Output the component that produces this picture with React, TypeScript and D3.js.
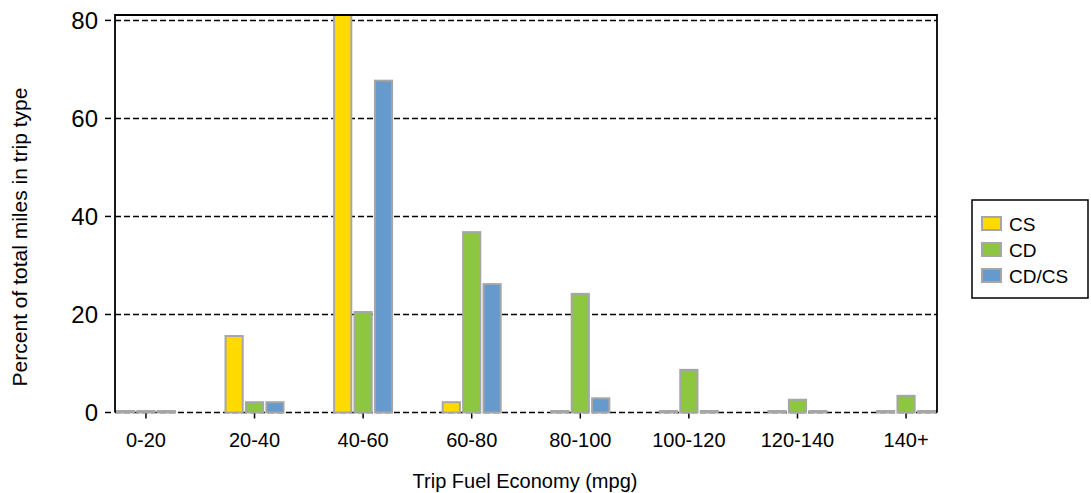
import React from "react";
import * as d3 from "d3";

const categories = ["0-20", "20-40", "40-60", "60-80", "80-100", "100-120", "120-140", "140+"];
const seriesNames = ["CS", "CD", "CD/CS"];
const csValues = [0.3, 15.6, 81.1, 2.1, 0.3, 0.3, 0.3, 0.3];
const cdValues = [0.3, 2.1, 20.5, 36.8, 24.2, 8.7, 2.6, 3.4];
const cdcsValues = [0.3, 2.1, 67.7, 26.2, 2.9, 0.3, 0.3, 0.3];
const yTicks = [0, 20, 40, 60, 80];
const colors = ["#FFDA00", "#8DC63F", "#6699CC"];

const W = 1091;
const H = 493;
const left = 115;
const right = 937;
const top = 15;
const bottom = 412.5;
const font = "'Liberation Sans', Arial, sans-serif";

export default function App() {
  const series = [csValues, cdValues, cdcsValues];
  const x = d3.scalePoint<string>().domain(categories).range([left, right]).padding(0.285);
  const x1 = d3.scaleBand<string>().domain(seriesNames).range([-30, 30]).paddingInner(0.06);
  const y = d3.scaleLinear().domain([0, 81.1]).range([bottom, top]);

  return (
    <svg width={W} height={H} style={{ position: "absolute", left: 0, top: 0, background: "#fff" }} fontFamily={font}>
      <rect x={0} y={0} width={W} height={H} fill="#fff" />
      {yTicks.map((t) => (
        <g key={t}>
          <line x1={left} x2={right} y1={y(t)} y2={y(t)} stroke="#000" strokeWidth={1.5} strokeDasharray="6,3" />
          <line x1={105} x2={111} y1={y(t)} y2={y(t)} stroke="#000" strokeWidth={1.5} />
          <text x={98} y={y(t)} fontSize={24} textAnchor="end" dominantBaseline="central" fill="#000">
            {t}
          </text>
        </g>
      ))}
      {categories.map((c, i) => (
        <g key={c}>
          {series.map((vals, s) => {
            const bx = (x(c) as number) + (x1(seriesNames[s]) as number);
            const by = y(vals[i]);
            return (
              <rect
                key={s}
                x={bx + 1}
                y={by}
                width={x1.bandwidth() - 2}
                height={bottom - by}
                fill={colors[s]}
                stroke="#A6A6A6"
                strokeWidth={2}
              />
            );
          })}
          <line x1={x(c)} x2={x(c)} y1={bottom + 1} y2={bottom + 6} stroke="#000" strokeWidth={1.5} />
          <text x={x(c)} y={447} fontSize={20} textAnchor="middle" fill="#000">
            {c}
          </text>
        </g>
      ))}
      <path d={`M${left},${bottom}V${top}H${right}V${bottom}`} fill="none" stroke="#000" strokeWidth={1.8} />
      <text x={525} y={488} fontSize={20} textAnchor="middle" fill="#000">
        Trip Fuel Economy (mpg)
      </text>
      <text transform={`translate(27,237) rotate(-90)`} fontSize={21} textAnchor="middle" fill="#000">
        Percent of total miles in trip type
      </text>
      <rect x={972} y={200} width={116} height={98} fill="#fff" stroke="#000" strokeWidth={1.5} />
      {seriesNames.map((n, s) => (
        <g key={n}>
          <rect x={982} y={217 + s * 26} width={19} height={13} fill={colors[s]} stroke="#A6A6A6" strokeWidth={2} />
          <text x={1009} y={224 + s * 26} fontSize={19} dominantBaseline="central" fill="#000">
            {n}
          </text>
        </g>
      ))}
    </svg>
  );
}
